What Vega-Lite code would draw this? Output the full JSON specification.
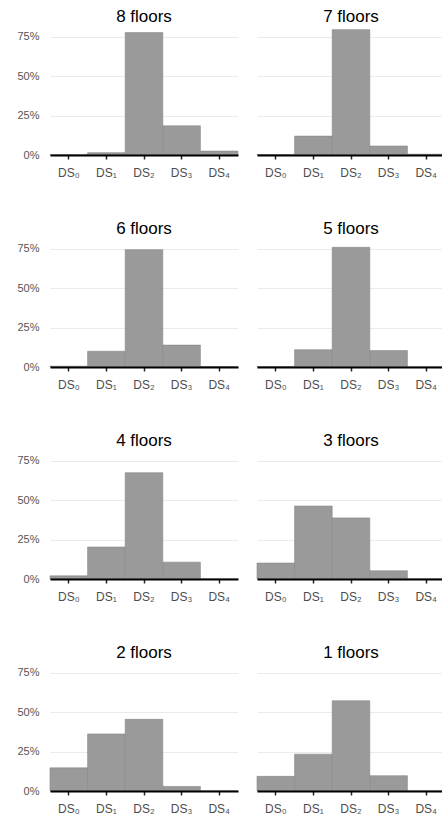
{
  "$schema": "https://vega.github.io/schema/vega-lite/v6.json",
  "padding": {"left": 4, "top": 8, "right": 0, "bottom": 5},
  "background": "white",
  "data": {
    "values": [
      {"panel": "8 floors", "ds": "DS₀", "share": 0.002},
      {"panel": "8 floors", "ds": "DS₁", "share": 0.015},
      {"panel": "8 floors", "ds": "DS₂", "share": 0.777},
      {"panel": "8 floors", "ds": "DS₃", "share": 0.185},
      {"panel": "8 floors", "ds": "DS₄", "share": 0.025},
      {"panel": "7 floors", "ds": "DS₀", "share": 0.003},
      {"panel": "7 floors", "ds": "DS₁", "share": 0.12},
      {"panel": "7 floors", "ds": "DS₂", "share": 0.796},
      {"panel": "7 floors", "ds": "DS₃", "share": 0.057},
      {"panel": "7 floors", "ds": "DS₄", "share": 0.005},
      {"panel": "6 floors", "ds": "DS₀", "share": 0.005},
      {"panel": "6 floors", "ds": "DS₁", "share": 0.10},
      {"panel": "6 floors", "ds": "DS₂", "share": 0.745},
      {"panel": "6 floors", "ds": "DS₃", "share": 0.139},
      {"panel": "6 floors", "ds": "DS₄", "share": 0.003},
      {"panel": "5 floors", "ds": "DS₀", "share": 0.003},
      {"panel": "5 floors", "ds": "DS₁", "share": 0.11},
      {"panel": "5 floors", "ds": "DS₂", "share": 0.76},
      {"panel": "5 floors", "ds": "DS₃", "share": 0.104},
      {"panel": "5 floors", "ds": "DS₄", "share": 0.0},
      {"panel": "4 floors", "ds": "DS₀", "share": 0.02},
      {"panel": "4 floors", "ds": "DS₁", "share": 0.203},
      {"panel": "4 floors", "ds": "DS₂", "share": 0.675},
      {"panel": "4 floors", "ds": "DS₃", "share": 0.107},
      {"panel": "4 floors", "ds": "DS₄", "share": 0.0},
      {"panel": "3 floors", "ds": "DS₀", "share": 0.101},
      {"panel": "3 floors", "ds": "DS₁", "share": 0.463},
      {"panel": "3 floors", "ds": "DS₂", "share": 0.388},
      {"panel": "3 floors", "ds": "DS₃", "share": 0.052},
      {"panel": "3 floors", "ds": "DS₄", "share": 0.0},
      {"panel": "2 floors", "ds": "DS₀", "share": 0.147},
      {"panel": "2 floors", "ds": "DS₁", "share": 0.362},
      {"panel": "2 floors", "ds": "DS₂", "share": 0.455},
      {"panel": "2 floors", "ds": "DS₃", "share": 0.029},
      {"panel": "2 floors", "ds": "DS₄", "share": 0.0},
      {"panel": "1 floors", "ds": "DS₀", "share": 0.093},
      {"panel": "1 floors", "ds": "DS₁", "share": 0.234},
      {"panel": "1 floors", "ds": "DS₂", "share": 0.573},
      {"panel": "1 floors", "ds": "DS₃", "share": 0.097},
      {"panel": "1 floors", "ds": "DS₄", "share": 0.0}
    ]
  },
  "facet": {
    "field": "panel",
    "type": "nominal",
    "sort": ["8 floors", "7 floors", "6 floors", "5 floors", "4 floors", "3 floors", "2 floors", "1 floors"],
    "header": {
      "title": null,
      "labelFont": "Liberation Sans",
      "labelFontSize": 17,
      "labelColor": "#000000",
      "labelPadding": 3
    }
  },
  "columns": 2,
  "spacing": {"row": 42, "column": 17},
  "resolve": {"axis": {"x": "independent"}},
  "spec": {
    "width": 188,
    "height": 126,
    "mark": {"type": "bar", "fill": "#9a9a9a", "stroke": "#878787", "strokeWidth": 0.6},
    "encoding": {
      "x": {
        "field": "ds",
        "type": "nominal",
        "sort": ["DS₀", "DS₁", "DS₂", "DS₃", "DS₄"],
        "scale": {"paddingInner": 0, "paddingOuter": 0},
        "axis": {
          "title": null,
          "labelAngle": 0,
          "labelFont": "Liberation Sans",
          "labelFontSize": 12,
          "labelColor": "#4d4d4d",
          "labelPadding": 8,
          "domainColor": "#000000",
          "domainWidth": 2,
          "tickColor": "#222222",
          "tickSize": 4,
          "tickWidth": 1.5,
          "grid": false,
          "zindex": 1
        }
      },
      "y": {
        "field": "share",
        "type": "quantitative",
        "scale": {"domain": [0, 0.8], "nice": false},
        "axis": {
          "title": null,
          "values": [0, 0.25, 0.5, 0.75],
          "format": ".0%",
          "labelFont": "Liberation Sans",
          "labelFontSize": 11,
          "labelColor": "#555555",
          "labelPadding": 10,
          "ticks": false,
          "domain": false,
          "gridColor": "#ebebeb",
          "gridWidth": 1.2,
          "minExtent": 45,
          "maxExtent": 45
        }
      }
    }
  },
  "config": {
    "view": {"stroke": null},
    "font": "Liberation Sans"
  }
}
